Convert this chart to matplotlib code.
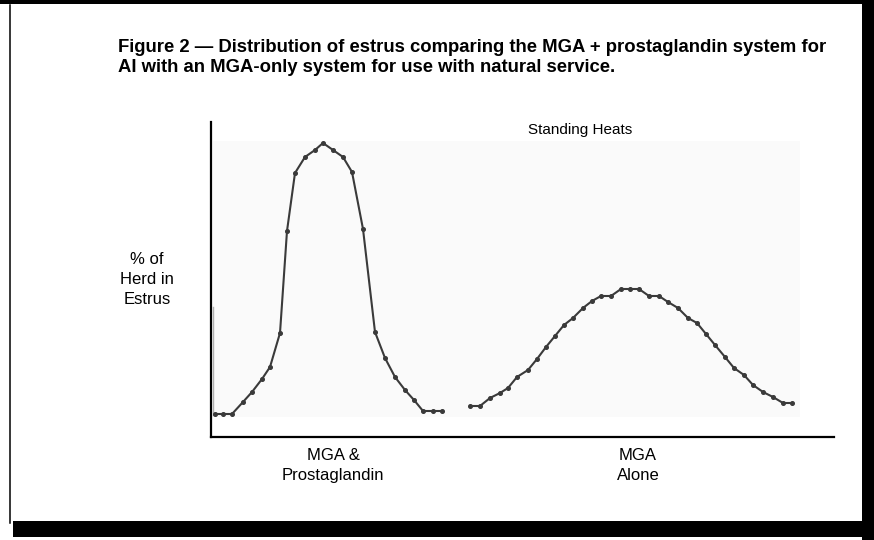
import matplotlib.pyplot as plt
from matplotlib.patches import Rectangle
from matplotlib.lines import Line2D

# datos (x en horas aprox., y en % del rodeo, escala arbitraria)
mga_pg_x = [4, 12, 21, 32, 41, 51, 59, 69, 76, 84, 94, 104, 112, 122, 132,
            141, 152, 164, 174, 184, 194, 203, 212, 222, 231]
mga_pg_y = [0.0, 0.0, 0.0, 1.2, 2.2, 3.5, 4.7, 8.1, 18.3, 24.1, 25.7, 26.4, 27.1,
            26.4, 25.7, 24.2, 18.5, 8.2, 5.6, 3.7, 2.4, 1.4, 0.3, 0.3, 0.3]

mga_x = [259, 269, 279, 289, 297, 306, 317, 326, 335, 344, 353, 362, 372, 381,
         390, 400, 410, 419, 428, 438, 448, 457, 467, 477, 486, 495, 504, 514,
         523, 533, 542, 552, 562, 572, 581]
mga_y = [0.8, 0.8, 1.6, 2.1, 2.6, 3.7, 4.4, 5.5, 6.7, 7.8, 8.9, 9.6, 10.6, 11.3,
         11.8, 11.8, 12.5, 12.5, 12.5, 11.8, 11.8, 11.2, 10.6, 9.6, 9.1, 8.0,
         6.9, 5.7, 4.6, 3.9, 2.9, 2.2, 1.7, 1.1, 1.1]

titulo = ("Figure 2 \u2014 Distribution of estrus comparing the MGA + prostaglandin system for\n"
          "AI with an MGA-only system for use with natural service.")
etiquetas = ["MGA &\nProstaglandin", "MGA\nAlone"]

W, H = 874, 540
fuente = ['Liberation Sans', 'DejaVu Sans']

fig = plt.figure(figsize=(W / 100, H / 100), dpi=100)

# pasa pixeles de la imagen a fraccion de figura
def fx(px):
    return px / W

def fy(py):
    return 1 - py / H

# marco negro de la pagina
fig.add_artist(Rectangle((fx(0), fy(4)), fx(862), 4 / H, transform=fig.transFigure,
                         color='black', lw=0))
fig.add_artist(Rectangle((fx(862), fy(540)), fx(12), 1, transform=fig.transFigure,
                         color='black', lw=0))
fig.add_artist(Rectangle((fx(13), fy(537)), fx(861), 16 / H, transform=fig.transFigure,
                         color='black', lw=0))
fig.add_artist(Line2D([fx(9.5), fx(9.5)], [fy(5), fy(523)], transform=fig.transFigure,
                      color='black', lw=1.1))

fig.text(fx(118), fy(39), titulo, ha='left', va='top', fontsize=13.3, fontweight='bold',
         family=fuente, linespacing=1.2)

# ejes: el area del grafico
ax = fig.add_axes([fx(211), fy(437), fx(834) - fx(211), fy(122) - fy(437)])
ax.set_xlim(0, 623)
ax.set_ylim(-2.3, 29.2)
ax.add_patch(Rectangle((2, -0.3), 587, 27.6, color='#fafafa', lw=0, zorder=0))
ax.plot([2, 2], [-0.1, 10.7], color='#b0b0b0', lw=1, zorder=1)

ax.plot(mga_pg_x, mga_pg_y, color='#3a3a3a', lw=1.5, marker='o', markersize=2.6, zorder=3)
ax.plot(mga_x, mga_y, color='#3a3a3a', lw=1.5, marker='o', markersize=2.6, zorder=3)

for s in ['top', 'right']:
    ax.spines[s].set_visible(False)
for s in ['left', 'bottom']:
    ax.spines[s].set_linewidth(1.6)
ax.set_xticks([])
ax.set_yticks([])
ax.set_facecolor('white')

fig.text(fx(580), fy(134), "Standing Heats", ha='center', va='baseline', fontsize=11,
         family=fuente)
fig.text(fx(147), fy(252), "% of\nHerd in\nEstrus", ha='center', va='top', fontsize=12,
         family=fuente, linespacing=1.4)
fig.text(fx(333), fy(448), etiquetas[0], ha='center', va='top', fontsize=12,
         family=fuente, linespacing=1.4)
fig.text(fx(638), fy(448), etiquetas[1], ha='center', va='top', fontsize=12,
         family=fuente, linespacing=1.4)

fig.savefig('out.png', dpi=100)
